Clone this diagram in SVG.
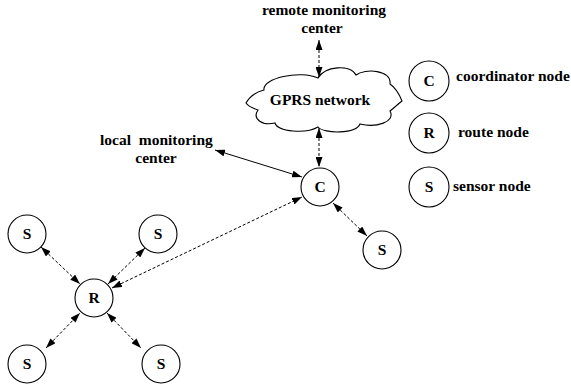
<svg xmlns="http://www.w3.org/2000/svg" width="571" height="385" viewBox="0 0 571 385">
<style>
.t{font-weight:bold;font-size:15.5px;fill:#000}
.n{text-anchor:middle}
circle{fill:#fff;stroke:#000;stroke-width:1.1}
.l{stroke:#000;stroke-width:1;fill:none;marker-start:url(#ah);marker-end:url(#ah)}
.d{stroke-dasharray:3,2}
</style>
<defs>
<marker id="ah" markerUnits="userSpaceOnUse" viewBox="0 0 10 7" refX="10" refY="3.5" markerWidth="10" markerHeight="7" orient="auto-start-reverse">
<path d="M0,0 L10,3.5 L0,7 Z" fill="#000"/>
</marker>
</defs>
<rect width="571" height="385" fill="#fff"/>
<g id="connectors">
<line class="l d" x1="319" y1="40" x2="319" y2="77"/>
<line class="l d" x1="319" y1="128" x2="319" y2="167"/>
<line class="l" x1="215" y1="150" x2="302" y2="177"/>
<line class="l d" x1="112" y1="288" x2="302" y2="197"/>
<line class="l d" x1="333" y1="203" x2="367" y2="236"/>
<line class="l d" x1="41" y1="247" x2="80" y2="284"/>
<line class="l d" x1="145" y1="248" x2="108" y2="284"/>
<line class="l d" x1="46" y1="348" x2="80" y2="313"/>
<line class="l d" x1="107" y1="313" x2="141" y2="348"/>
</g>
<g font-family="'Liberation Serif', 'Times New Roman', Times, serif" class="t">
<g id="remote">
<text class="n" x="324" y="15">remote monitoring</text>
<text class="n" x="322" y="33">center</text>
</g>
<g id="gprs">
<path d="M246,103 C250,96 256,92 264,90 C262,78 300,70 318,78 C325,66 350,64 356,75 C365,68 392,70 390,84 C396,88 400,96 402,101 C398,104 394,108 390,111 C396,122 376,128 360,124 C356,134 324,134 318,127 C306,134 278,132 275,123 C262,126 252,119 258,110 C252,108 248,106 246,103 Z" fill="#fff" stroke="#000" stroke-width="1.1"/>
<text class="n" x="320" y="105">GPRS network</text>
</g>
<g id="local">
<text x="100" y="145" xml:space="preserve">local  monitoring</text>
<text class="n" x="156" y="163">center</text>
</g>
<g id="nodeC"><circle cx="320" cy="187" r="19"/><text class="n" x="320" y="192">C</text></g>
<g id="nodeS5"><circle cx="382" cy="250" r="19"/><text class="n" x="382" y="255">S</text></g>
<g id="nodeR"><circle cx="94" cy="298" r="19"/><text class="n" x="94" y="303">R</text></g>
<g id="nodeS1"><circle cx="27" cy="234" r="19"/><text class="n" x="27" y="239">S</text></g>
<g id="nodeS2"><circle cx="158" cy="234" r="19"/><text class="n" x="158" y="239">S</text></g>
<g id="nodeS3"><circle cx="27" cy="364" r="19"/><text class="n" x="27" y="369">S</text></g>
<g id="nodeS4"><circle cx="161" cy="364" r="19"/><text class="n" x="161" y="369">S</text></g>
<g id="legendC"><circle cx="429" cy="81" r="20"/><text class="n" x="429" y="86">C</text><text x="456" y="81">coordinator node</text></g>
<g id="legendR"><circle cx="429" cy="133" r="20"/><text class="n" x="429" y="138">R</text><text x="458" y="137">route node</text></g>
<g id="legendS"><circle cx="429" cy="187" r="20"/><text class="n" x="429" y="192">S</text><text x="453" y="191">sensor node</text></g>
</g>
</svg>
